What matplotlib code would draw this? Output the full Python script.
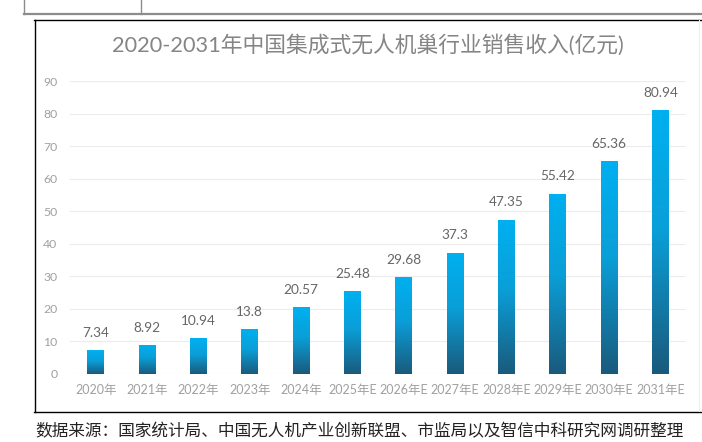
import matplotlib
matplotlib.use("Agg")
import matplotlib.pyplot as plt
import numpy as np
from matplotlib.lines import Line2D
from matplotlib.colors import to_rgb

plt.rcParams['font.family'] = ['Lato', 'Noto Sans CJK SC', 'DejaVu Sans']

categories = ["2020年", "2021年", "2022年", "2023年", "2024年", "2025年E", "2026年E",
              "2027年E", "2028年E", "2029年E", "2030年E", "2031年E"]
values = [7.34, 8.92, 10.94, 13.8, 20.57, 25.48, 29.68, 37.3, 47.35, 55.42, 65.36, 80.94]
value_labels = ["7.34", "8.92", "10.94", "13.8", "20.57", "25.48", "29.68", "37.3",
                "47.35", "55.42", "65.36", "80.94"]
yticks = [0, 10, 20, 30, 40, 50, 60, 70, 80, 90]
title = "2020-2031年中国集成式无人机巢行业销售收入(亿元)"
source = "数据来源：国家统计局、中国无人机产业创新联盟、市监局以及智信中科研究网调研整理"

W, H = 702, 442
fig = plt.figure(figsize=(W / 100, H / 100), dpi=100)
fig.patch.set_facecolor('white')

def fx(px):
    return px / W

def fy(py):
    return 1 - py / H

# decorations: table fragment on top and chart frame
gray = '#8c8c8c'
fig.add_artist(Line2D([fx(24), fx(702)], [fy(14), fy(14)], color=gray, lw=1.6))
fig.add_artist(Line2D([fx(24), fx(24)], [fy(0), fy(14)], color=gray, lw=1.0))
fig.add_artist(Line2D([fx(141), fx(141)], [fy(0), fy(14)], color=gray, lw=1.0))
fig.add_artist(Line2D([fx(34), fx(702)], [fy(19.5), fy(19.5)], color='black', lw=1.0))
fig.add_artist(Line2D([fx(34), fx(702)], [fy(412), fy(412)], color='black', lw=1.0))
fig.add_artist(Line2D([fx(34.5), fx(34.5)], [fy(19.5), fy(412)], color='black', lw=1.0))
fig.add_artist(Line2D([fx(699), fx(699)], [fy(20), fy(411)], color='#eeeeee', lw=0.8))

ax = fig.add_axes([fx(70), fy(374), (686 - 70) / W, (374 - 81) / H])
ax.set_facecolor('none')

x = np.arange(len(categories))
bars = ax.bar(x, values, width=0.32, color='none', edgecolor='none', zorder=3)

# gradient per bar (top bright, bottom dark)
stops = [(0.0, '#00b0f0'), (0.45, '#0a9fd8'), (1.0, '#1a5a7c')]
n = 256
t = np.linspace(0, 1, n)
grad = np.zeros((n, 1, 3))
for c in range(3):
    grad[:, 0, c] = np.interp(t, [s[0] for s in stops], [to_rgb(s[1])[c] for s in stops])

for b in bars:
    x0, w, h = b.get_x(), b.get_width(), b.get_height()
    im = ax.imshow(grad, extent=[x0, x0 + w, 0, h], origin='upper', aspect='auto', zorder=3)
    im.set_clip_path(b)

for b, lab in zip(bars, value_labels):
    ax.annotate(lab, (b.get_x() + b.get_width() / 2, b.get_height()),
                xytext=(0, 12.5), textcoords='offset points', ha='center', va='center',
                fontsize=9.8, color='#666666', annotation_clip=False)

ax.set_xlim(-0.5, len(categories) - 0.5)
ax.set_ylim(0, 90)
ax.set_yticks(yticks)
ax.set_yticklabels([str(v) for v in yticks])
ax.set_xticks(x)
ax.set_xticklabels(categories)
ax.tick_params(axis='both', length=0, colors='#a0a0a0', labelsize=9)
ax.tick_params(axis='y', pad=9, labelsize=8.8)
ax.tick_params(axis='x', pad=7.5)
ax.yaxis.grid(True, color='#ececec', lw=0.8, zorder=0)
ax.set_axisbelow(True)
for s in ax.spines.values():
    s.set_visible(False)

fig.text(fx(368), fy(45), title, ha='center', va='center', fontsize=15.7, color='#858585')
fig.text(fx(35), fy(440.5), source, ha='left', va='bottom', fontsize=12.0, color='#222222',
         family=['Noto Sans CJK SC', 'DejaVu Sans'])

fig.savefig('out.png', dpi=100, facecolor='white')
